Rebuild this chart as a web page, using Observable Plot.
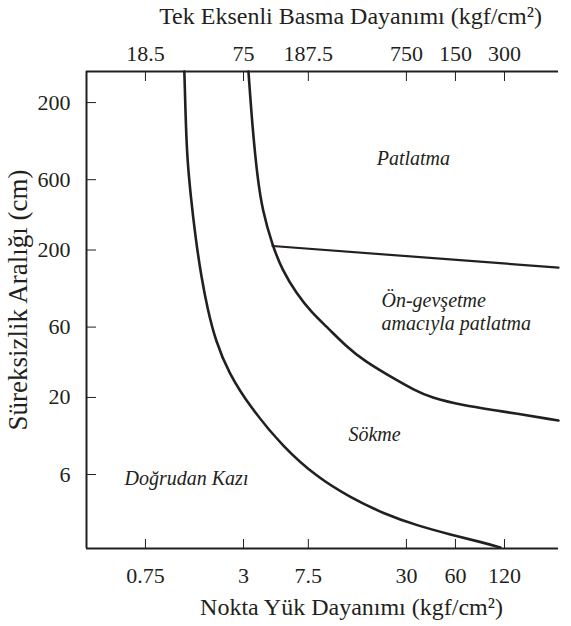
<!DOCTYPE html>
<html><head><meta charset="utf-8">
<script src="https://cdn.jsdelivr.net/npm/d3@7"></script>
<script src="https://cdn.jsdelivr.net/npm/@observablehq/plot@0.6"></script>
<style>
body{margin:0;background:#fff}
svg, svg text { font-family: "Liberation Serif", "Times New Roman", "DejaVu Serif", serif !important; }
</style>
</head><body><div id="chart"></div>
<script>
// tick values & labels
const xTicks = [0.75, 3, 7.5, 30, 60, 120];
const xBottomLabels = ["0.75", "3", "7.5", "30", "60", "120"];
const xTopLabels = ["18.5", "75", "187.5", "750", "150", "300"];
const yTicks = [2000, 600, 200, 60, 20, 6];
const yLabels = ["200", "600", "200", "60", "20", "6"];
const xDomain = [0.326, 257.5];
const yDomain = [1.89, 3250];

// boundary curves (point load strength, discontinuity spacing)
const digX = [1.30, 1.329, 1.358, 1.417, 1.521, 1.655, 1.802, 2.018, 2.424, 3.309, 5.276, 8.531, 13.60, 21.68, 35.06, 55.90, 89.13, 113.3];
const digY = [3250, 1356, 810, 484, 243, 130, 80.2, 48.7, 29.5, 17.1, 9.15, 5.73, 4.19, 3.26, 2.70, 2.35, 2.07, 1.92];
const rippX = [3.217, 3.403, 3.652, 3.920, 4.515, 5.202, 6.341, 7.838, 9.965, 12.67, 16.35, 26.32, 33.14, 42.13, 67.18, 108.6, 257.5];
const rippY = [3250, 1356, 621, 371, 214.7, 145.2, 101.4, 75.4, 58.7, 45.0, 35.6, 26.06, 22.64, 19.98, 17.63, 16.31, 13.95];
const blastX = [4.52, 257.5];
const blastY = [213, 152];

// zone labels
const zoneNames = ["Patlatma", "Sökme", "Doğrudan Kazı"];
const zoneX = [33.1, 19.1, 1.34];
const zoneY = [836, 11.2, 5.64];
const preName = ["Ön-gevşetme\namacıyla patlatma"];
const preX = [21.1];
const preY = [77.2];

const titleTop = "Tek Eksenli Basma Dayanımı (kgf/cm²)";
const titleBottom = "Nokta Yük Dayanımı (kgf/cm²)";
const titleLeft = "Süreksizlik Aralığı (cm)";

const ink = "#231f20";
const serif = "Liberation Serif";
const toPts = (xs, ys) => xs.map((x, i) => ({x, y: ys[i]}));
const zones = zoneNames.map((n, i) => ({n, x: zoneX[i], y: zoneY[i]}));
const pre = preName.map((n, i) => ({n, x: preX[i], y: preY[i]}));

const chart = Plot.plot({
  width: 571, height: 626,
  marginLeft: 86, marginRight: 13, marginTop: 71, marginBottom: 78,
  style: {fontSize: "18px", color: ink, background: "white"},
  x: {type: "log", domain: xDomain, axis: null},
  y: {type: "log", domain: yDomain, axis: null},
  marks: [
    // frame lines
    Plot.ruleX([xDomain[0]], {stroke: ink, strokeWidth: 2}),
    Plot.ruleY([yDomain[0]], {stroke: ink, strokeWidth: 2}),
    Plot.ruleY([yDomain[1]], {stroke: ink, strokeWidth: 2}),
    // inward ticks
    Plot.axisX({anchor: "bottom", ticks: xTicks, tickSize: -9, tickFormat: () => "", label: null, stroke: ink}),
    Plot.axisX({anchor: "top", ticks: xTicks, tickSize: -9, tickFormat: () => "", label: null, stroke: ink}),
    Plot.axisY({anchor: "left", ticks: yTicks, tickSize: -10, tickFormat: () => "", label: null, stroke: ink}),
    // tick labels
    Plot.text(xTicks, {x: d => d, frameAnchor: "bottom", dy: 27, lineAnchor: "middle", text: (d, i) => xBottomLabels[i], fontFamily: serif, fontSize: 22, fill: ink}),
    Plot.text(xTicks, {x: d => d, frameAnchor: "top", dy: -18, lineAnchor: "middle", text: (d, i) => xTopLabels[i], fontFamily: serif, fontSize: 22, fill: ink}),
    Plot.text(yTicks, {y: d => d, frameAnchor: "left", dx: -16, textAnchor: "end", lineAnchor: "middle", text: (d, i) => yLabels[i], fontFamily: serif, fontSize: 22, fill: ink}),
    // boundaries
    Plot.line(toPts(digX, digY), {x: "x", y: "y", curve: "basis", stroke: ink, strokeWidth: 2.6}),
    Plot.line(toPts(rippX, rippY), {x: "x", y: "y", curve: "basis", stroke: ink, strokeWidth: 2.6}),
    Plot.line(toPts(blastX, blastY), {x: "x", y: "y", stroke: ink, strokeWidth: 2.2}),
    // zone labels
    Plot.text(zones, {x: "x", y: "y", text: "n", fontFamily: serif, fontStyle: "italic", fontSize: 20, fill: ink}),
    Plot.text(pre, {x: "x", y: "y", text: "n", fontFamily: serif, fontStyle: "italic", fontSize: 20, textAnchor: "start", lineHeight: 1.15, fill: ink}),
    // titles
    Plot.text([titleTop], {frameAnchor: "top", text: d => d, dy: -55, dx: 28, textAnchor: "middle", lineAnchor: "middle", fontFamily: serif, fontSize: 24, fill: ink}),
    Plot.text([titleBottom], {frameAnchor: "bottom", text: d => d, dy: 59, dx: 29, textAnchor: "middle", lineAnchor: "middle", fontFamily: serif, fontSize: 24, fill: ink}),
    Plot.text([titleLeft], {frameAnchor: "left", text: d => d, dx: -68, dy: -10, rotate: -90, textAnchor: "middle", lineAnchor: "middle", fontFamily: serif, fontSize: 27, fill: ink})
  ]
});
document.getElementById("chart").append(chart);
</script>
</body></html>
